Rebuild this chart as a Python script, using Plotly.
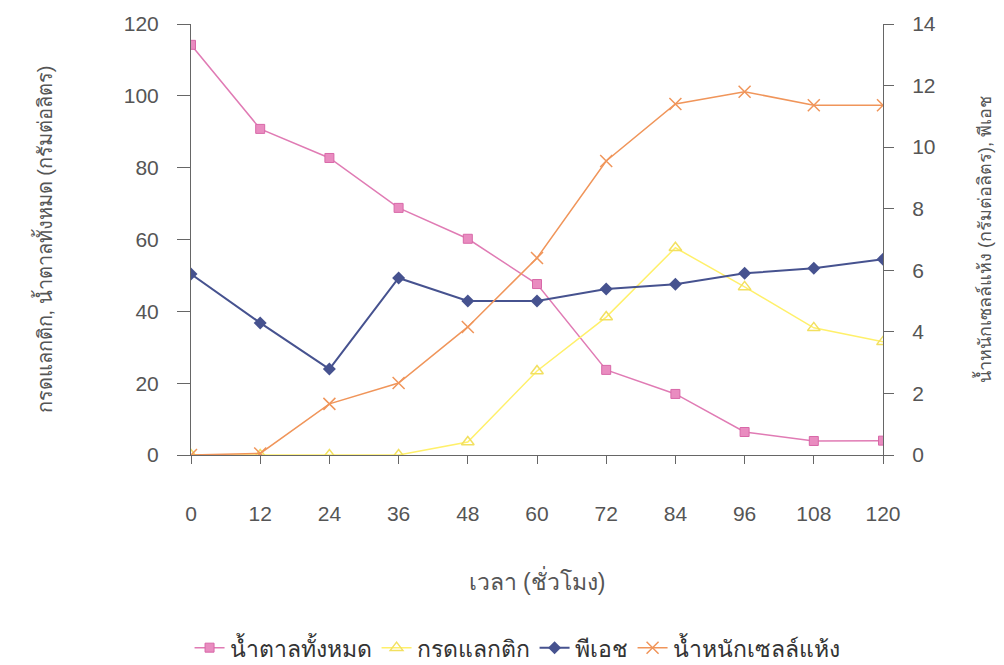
import plotly.graph_objects as go

hours = [0, 12, 24, 36, 48, 60, 72, 84, 96, 108, 120]
sugar = [114.2, 90.8, 82.7, 68.8, 60.2, 47.6, 23.7, 17.0, 6.4, 3.9, 4.0]
lactic = [0, 0, 0, 0, 3.6, 23.4, 38.4, 57.7, 46.8, 35.4, 31.5]
ph = [5.88, 4.29, 2.79, 5.75, 5.0, 5.0, 5.39, 5.55, 5.9, 6.07, 6.36]
dcw = [0, 0.05, 1.66, 2.34, 4.16, 6.4, 9.55, 11.4, 11.8, 11.36, 11.36]

names = ["น้ำตาลทั้งหมด", "กรดแลกติก", "พีเอช", "น้ำหนักเซลล์แห้ง"]
x_title = "เวลา (ชั่วโมง)"
y1_title = "กรดแลกติก, น้ำตาลทั้งหมด (กรัมต่อลิตร)"
y2_title = "น้ำหนักเซลล์แห้ง (กรัมต่อลิตร), พีเอช"

font_family = "Liberation Sans, Arial, Noto Sans, DejaVu Sans, sans-serif"
txt = "#555555"

fig = go.Figure()
fig.add_trace(go.Scatter(x=hours, y=sugar, name=names[0], mode="lines+markers",
                         line=dict(color="#E07BB4", width=1.5),
                         marker=dict(symbol="square", size=9, color="#E98CC0",
                                     line=dict(color="#D868A8", width=1))))
fig.add_trace(go.Scatter(x=hours, y=lactic, name=names[1], mode="lines+markers",
                         line=dict(color="#FFF06A", width=1.5),
                         marker=dict(symbol="triangle-up-open", size=11, color="#F2E060",
                                     line=dict(width=1.5))))
fig.add_trace(go.Scatter(x=hours, y=ph, name=names[2], mode="lines+markers", yaxis="y2",
                         line=dict(color="#46528F", width=2),
                         marker=dict(symbol="diamond", size=10, color="#46528F")))
fig.add_trace(go.Scatter(x=hours, y=dcw, name=names[3], mode="lines+markers", yaxis="y2",
                         line=dict(color="#F0955A", width=1.5),
                         marker=dict(symbol="x-thin-open", size=12,
                                     line=dict(color="#F0955A", width=1.5))))

axis_common = dict(showgrid=False, zeroline=False, showline=True, linecolor="#666666",
                   linewidth=1, ticks="outside", tickcolor="#666666",
                   automargin=False,
                   tickfont=dict(size=21, color=txt, family=font_family))

fig.update_layout(
    width=1004, height=665,
    margin=dict(l=191, r=121, t=24, b=210),
    paper_bgcolor="white", plot_bgcolor="white",
    font=dict(family=font_family, color=txt),
    xaxis=dict(range=[0, 120], tickvals=hours, ticklen=8, ticklabelstandoff=32,
               title=dict(text=x_title, font=dict(size=23, color=txt), standoff=49),
               **axis_common),
    yaxis=dict(range=[0, 120], dtick=20, ticklen=13, ticklabelstandoff=14,
               title=dict(text=y1_title, font=dict(size=20, color=txt), standoff=65),
               **axis_common),
    yaxis2=dict(range=[0, 14], dtick=2, overlaying="y", side="right", ticklen=10,
                ticklabelstandoff=14,
                title=dict(text=y2_title, font=dict(size=18, color=txt), standoff=43),
                **axis_common),
    legend=dict(orientation="h", x=0.515, xanchor="center", xref="container",
                y=0.026, yanchor="middle", yref="container",
                font=dict(size=23, color="#333333"), tracegroupgap=0),
    showlegend=True,
)

fig.write_html("out.html")
